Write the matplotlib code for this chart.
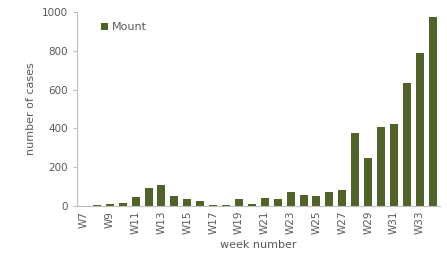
import matplotlib.pyplot as plt
import numpy as np

weeks = ['W%d' % w for w in range(7, 35)]
cases = [0, 3, 8, 15, 46, 93, 110, 52, 36, 26, 5, 5, 36, 12, 41, 36,
         72, 57, 52, 72, 82, 376, 247, 407, 423, 634, 789, 974]

fig = plt.figure(figsize=(4.47, 2.66), dpi=100)
ax = fig.add_axes([0.172, 0.226, 0.812, 0.729])

x = np.arange(len(weeks))
ax.bar(x, cases, width=0.62, color='#4f6228', label='Mount')

ax.set_xlim(-0.55, len(weeks) - 0.45)
ax.set_ylim(0, 1000)
ax.set_yticks([0, 200, 400, 600, 800, 1000])
ax.set_xticks(x[::2])
ax.set_xticklabels(weeks[::2], rotation=90)

for s in ['top', 'right']:
    ax.spines[s].set_visible(False)
for s in ['left', 'bottom']:
    ax.spines[s].set_color('#bfbfbf')
ax.tick_params(colors='#595959', labelsize=7.5, length=3)
ax.tick_params(axis='x', length=0)
ax.tick_params(axis='y', color='#bfbfbf')

ax.set_xlabel('week number', fontsize=8, color='#595959')
ax.set_ylabel('number of cases', fontsize=8, color='#595959')

ax.legend(loc='upper left', bbox_to_anchor=(0.04, 1.0), frameon=False,
          fontsize=8, handlelength=0.6, handleheight=0.6, handletextpad=0.3,
          labelcolor='#595959')

fig.savefig('out.png', dpi=100)
